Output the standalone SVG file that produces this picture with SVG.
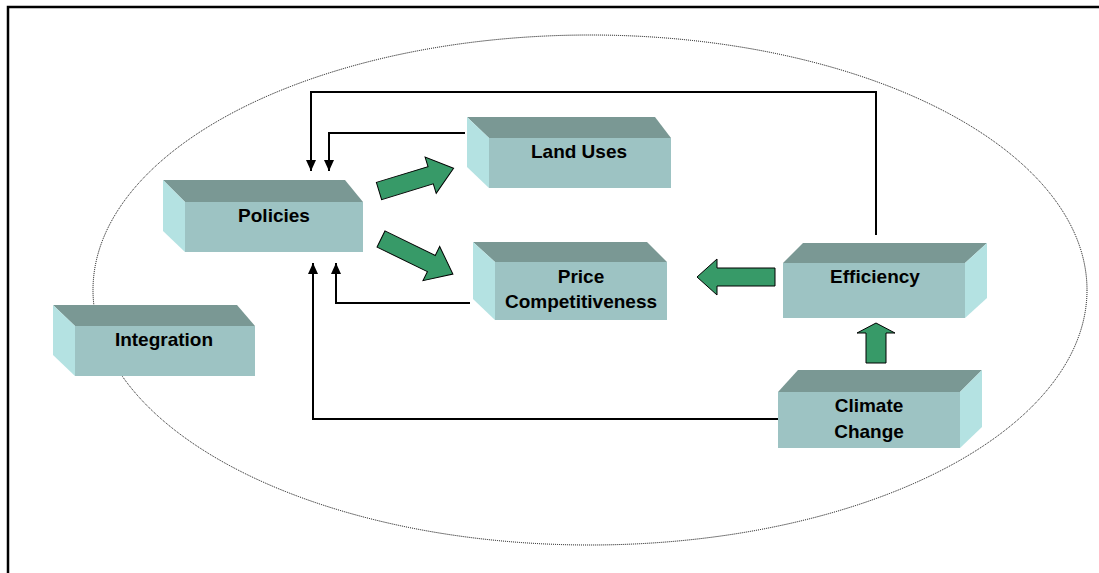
<svg xmlns="http://www.w3.org/2000/svg" width="1099" height="573" viewBox="0 0 1099 573">
<style>
.front{fill:#9dc3c3}
.top{fill:#7a9894}
.side{fill:#b4e2e2}
.lbl{font-family:"Liberation Sans",Arial,sans-serif;font-weight:bold;font-size:19px;fill:#000;text-anchor:middle}
.conn{fill:none;stroke:#000;stroke-width:2}
.block{fill:#379a68;stroke:#000;stroke-width:1}
</style>
<defs>
<marker id="ah" markerUnits="userSpaceOnUse" markerWidth="11" markerHeight="10" refX="11" refY="5" orient="auto">
<path d="M0,0 L11,5 L0,10 z" fill="#000"/>
</marker>
</defs>
<rect width="1099" height="573" fill="#fff"/>
<path d="M8,573 V7 H1099" fill="none" stroke="#000" stroke-width="2.5"/>
<ellipse cx="590" cy="290" rx="497" ry="255" fill="none" stroke="#000" stroke-width="1" stroke-dasharray="1,1"/>

<g id="connectors">
<polyline class="conn" points="876,235 876,92 311,92 311,171" marker-end="url(#ah)"/>
<polyline class="conn" points="465,133 329,133 329,171" marker-end="url(#ah)"/>
<polyline class="conn" points="470,303 336,303 336,263" marker-end="url(#ah)"/>
<polyline class="conn" points="778,419 313,419 313,263" marker-end="url(#ah)"/>
<path class="block" transform="translate(379,191) rotate(-17)" d="M0,-9 L54,-9 L54,-19 L78,0 L54,19 L54,9 L0,9 z"/>
<path class="block" transform="translate(381,239) rotate(26)" d="M0,-9 L56,-9 L56,-19 L80,0 L56,19 L56,9 L0,9 z"/>
<path class="block" d="M775,268 L717,268 L717,259 L697,277 L717,295 L717,286 L775,286 z"/>
<path class="block" d="M866,363 L866,333 L857,333 L876,323 L895,333 L886,333 L886,363 z"/>
</g>

<g id="policies">
<polygon class="top" points="163,180 345,180 363,202 185,202"/>
<polygon class="side" points="163,180 185,202 185,252 163,231"/>
<rect class="front" x="185" y="202" width="178" height="50"/>
<text class="lbl" x="274" y="222">Policies</text>
</g>
<g id="land-uses">
<polygon class="top" points="467,117 655,117 671,138 489,138"/>
<polygon class="side" points="467,117 489,138 489,188 467,167"/>
<rect class="front" x="489" y="138" width="182" height="50"/>
<text class="lbl" x="579" y="158">Land Uses</text>
</g>
<g id="price-competitiveness">
<polygon class="top" points="473,242 647,242 667,262 495,262"/>
<polygon class="side" points="473,242 495,262 495,320 473,299"/>
<rect class="front" x="495" y="262" width="172" height="58"/>
<text class="lbl" x="581" y="283">Price</text>
<text class="lbl" x="581" y="308">Competitiveness</text>
</g>
<g id="efficiency">
<polygon class="top" points="783,263 803,243 987,243 965,263"/>
<polygon class="side" points="965,263 987,243 987,298 965,318"/>
<rect class="front" x="783" y="263" width="182" height="55"/>
<text class="lbl" x="875" y="283">Efficiency</text>
</g>
<g id="climate-change">
<polygon class="top" points="778,392 798,370 982,370 960,392"/>
<polygon class="side" points="960,392 982,370 982,427 960,448"/>
<rect class="front" x="778" y="392" width="182" height="56"/>
<text class="lbl" x="869" y="412">Climate</text>
<text class="lbl" x="869" y="438">Change</text>
</g>
<g id="integration">
<polygon class="top" points="53,305 237,305 255,326 75,326"/>
<polygon class="side" points="53,305 75,326 75,376 53,355"/>
<rect class="front" x="75" y="326" width="180" height="50"/>
<text class="lbl" x="164" y="346">Integration</text>
</g>
</svg>
